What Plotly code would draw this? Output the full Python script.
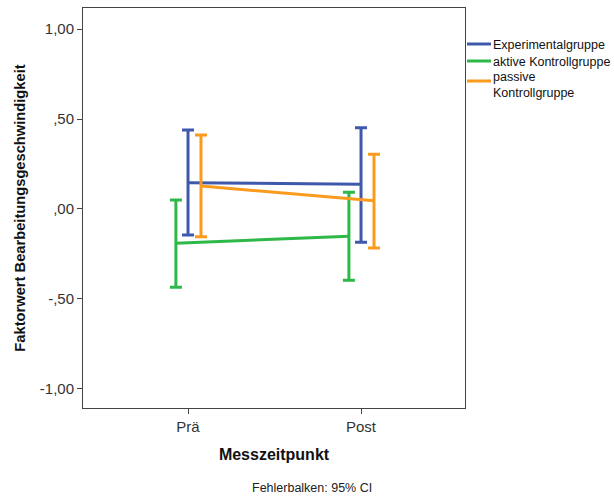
import plotly.graph_objects as go

# Messzeitpunkte und Gruppen
zeitpunkte = ["Prä", "Post"]
gruppen = ["Experimentalgruppe", "aktive Kontrollgruppe", ["passive", "Kontrollgruppe"]]

# Mittelwerte der Faktorwerte je Gruppe (Prä, Post)
mittel_exp = [0.146, 0.137]
mittel_akt = [-0.190, -0.152]
mittel_pas = [0.128, 0.046]

# 95%-Konfidenzintervalle: obere und untere Grenze
ci_oben_exp = [0.439, 0.452]
ci_unten_exp = [-0.144, -0.185]
ci_oben_akt = [0.050, 0.093]
ci_unten_akt = [-0.435, -0.396]
ci_oben_pas = [0.411, 0.304]
ci_unten_pas = [-0.154, -0.217]

# y-Achsenbeschriftung
y_ticks = [1.0, 0.5, 0.0, -0.5, -1.0]
y_ticktext = ["1,00", ",50", ",00", "-,50", "-1,00"]

farben = ["#3e58ac", "#2eb848", "#fb9b1e"]
versatz = [0.0, -0.07, 0.075]

mittel = [mittel_exp, mittel_akt, mittel_pas]
oben = [ci_oben_exp, ci_oben_akt, ci_oben_pas]
unten = [ci_unten_exp, ci_unten_akt, ci_unten_pas]

# Seitengeometrie in Pixeln
W, H = 614, 497
L, T, B = 83, 8, 89
plot_rechts = 465
paper_w = W - L
paper_h = H - T - B
x_dom = (plot_rechts - L) / paper_w


def px_x(px):
    return (px - L) / paper_w


def px_y(py):
    return (H - B - py) / paper_h


fig = go.Figure()
for g in range(len(gruppen)):
    xs = [i + versatz[g] for i in range(len(zeitpunkte))]
    m = mittel[g]
    fig.add_trace(go.Scatter(
        x=xs, y=m, mode="lines", showlegend=False,
        line=dict(color=farben[g], width=3),
        error_y=dict(
            type="data", symmetric=False,
            array=[o - v for o, v in zip(oben[g], m)],
            arrayminus=[v - u for u, v in zip(unten[g], m)],
            color=farben[g], thickness=3, width=6,
        ),
    ))

# Legende rechts neben der Plotfläche: Linienmuster + Beschriftung
legend_linie_y = [44, 61, 81]
legend_text_y = [[45], [61.5], [77.5, 92.5]]
shapes = []
annotations = []
for g, name in enumerate(gruppen):
    shapes.append(dict(
        type="line", xref="paper", yref="paper",
        x0=px_x(467), x1=px_x(491),
        y0=px_y(legend_linie_y[g]), y1=px_y(legend_linie_y[g]),
        line=dict(color=farben[g], width=3),
    ))
    zeilen = name if isinstance(name, list) else [name]
    for zeile, ty in zip(zeilen, legend_text_y[g]):
        annotations.append(dict(
            text=zeile, xref="paper", yref="paper",
            x=px_x(491), y=px_y(ty), xanchor="left", yanchor="middle",
            showarrow=False, font=dict(size=12.5, color="#111"),
        ))

annotations.append(dict(
    text="Fehlerbalken: 95% CI",
    xref="paper", yref="paper",
    x=px_x(312), y=px_y(488), yanchor="middle",
    showarrow=False, font=dict(size=12.5, color="#222"),
))

fig.update_layout(
    width=W, height=H,
    margin=dict(l=L, r=0, t=T, b=B, autoexpand=False),
    paper_bgcolor="white", plot_bgcolor="white",
    font=dict(family="Liberation Sans, Arial, sans-serif", color="#222"),
    showlegend=False,
    xaxis=dict(
        domain=[0, x_dom],
        range=[-0.607, 1.601],
        tickmode="array", tickvals=[0, 1], ticktext=zeitpunkte,
        tickfont=dict(size=15, color="#333"),
        ticks="outside", ticklen=5, tickcolor="#444",
        showline=True, linecolor="#444", linewidth=1, mirror=True,
        showgrid=False, zeroline=False,
        title=dict(text="<b>Messzeitpunkt</b>", font=dict(size=16, color="#111"), standoff=14),
    ),
    yaxis=dict(
        range=[-1.106, 1.117],
        tickmode="array", tickvals=y_ticks, ticktext=y_ticktext,
        tickfont=dict(size=15, color="#333"),
        ticks="outside", ticklen=5, tickcolor="#444",
        showline=True, linecolor="#444", linewidth=1, mirror=True,
        showgrid=False, zeroline=False,
        title=dict(text="<b>Faktorwert Bearbeitungsgeschwindigkeit</b>",
                   font=dict(size=14.7, color="#111"), standoff=10),
    ),
    shapes=shapes,
    annotations=annotations,
)

fig.write_html("out.html")
